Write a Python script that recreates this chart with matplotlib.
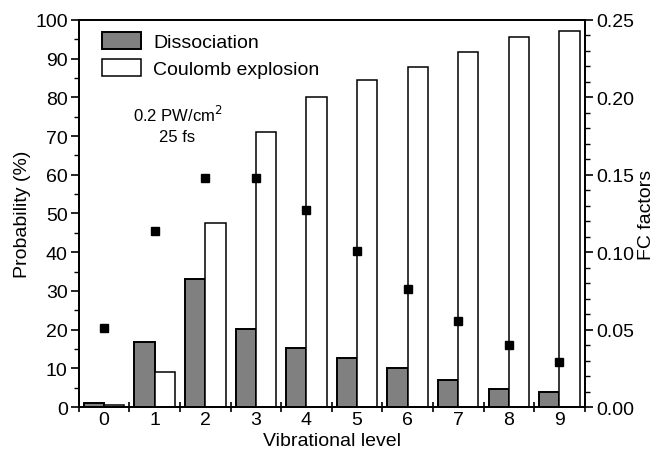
import numpy as np
import matplotlib.pyplot as plt
from matplotlib.ticker import MultipleLocator, FixedLocator, NullFormatter

plt.rcParams['font.family'] = ['Liberation Sans', 'DejaVu Sans']

levels = np.arange(10)
dissociation = [1.0, 16.7, 33.0, 20.3, 15.4, 12.8, 10.0, 7.1, 4.8, 4.0]
coulomb = [0.6, 9.2, 47.6, 71.0, 80.0, 84.5, 87.9, 91.8, 95.5, 97.0]
fc_factors = [0.051, 0.114, 0.148, 0.148, 0.127, 0.101, 0.076, 0.0555, 0.040, 0.029]


def main():
    fig = plt.figure(figsize=(6.57, 4.52), dpi=100)
    ax = fig.add_axes([0.120, 0.097, 0.770, 0.857])

    ax.bar(levels - 0.4, dissociation, width=0.4, align='edge',
           color='#808080', edgecolor='black', linewidth=1.4, label='Dissociation')
    ax.bar(levels, coulomb, width=0.4, align='edge',
           color='white', edgecolor='black', linewidth=1.1, label='Coulomb explosion')

    ax.set_xlim(-0.5, 9.5)
    ax.set_ylim(0, 100)
    # ticks between the groups, labels under the groups
    ax.xaxis.set_major_locator(FixedLocator(np.arange(-0.5, 10, 1.0)))
    ax.xaxis.set_major_formatter(NullFormatter())
    ax.xaxis.set_minor_locator(FixedLocator(levels))
    ax.set_xticklabels([str(v) for v in levels], minor=True)
    ax.tick_params(axis='x', which='major', direction='inout', length=7, width=1.2)
    ax.tick_params(axis='x', which='minor', length=0, labelsize=14, pad=3)
    ax.yaxis.set_major_locator(MultipleLocator(10))
    ax.yaxis.set_minor_locator(MultipleLocator(5))
    ax.tick_params(axis='y', which='major', direction='out', length=6, width=1.2,
                   labelsize=14, pad=2)
    ax.tick_params(axis='y', which='minor', direction='out', length=3.5, width=1.0)
    for s in ax.spines.values():
        s.set_linewidth(1.3)

    ax.set_xlabel('Vibrational level', fontsize=14, labelpad=3)
    ax.set_ylabel('Probability (%)', fontsize=14, labelpad=3)

    ax2 = ax.twinx()
    ax2.plot(levels, fc_factors, 's', color='black', markersize=6)
    ax2.set_ylim(0, 0.25)
    ax2.yaxis.set_major_locator(MultipleLocator(0.05))
    ax2.yaxis.set_minor_locator(MultipleLocator(0.01))
    ax2.yaxis.set_major_formatter(plt.FuncFormatter(lambda v, p: f'{v:.2f}'))
    ax2.tick_params(axis='y', which='major', direction='out', length=6, width=1.2,
                    labelsize=14, pad=2)
    ax2.tick_params(axis='y', which='minor', direction='out', length=3.5, width=1.0)
    ax2.set_ylabel('FC factors', fontsize=14, labelpad=3)
    for s in ax2.spines.values():
        s.set_linewidth(1.3)

    ax.legend(loc='upper left', bbox_to_anchor=(0.02, 1.0), frameon=False,
              fontsize=14, handlelength=2.05, handleheight=0.93,
              handletextpad=0.6, labelspacing=0.4, borderaxespad=0.25)

    ax.text(0.195, 0.757, '0.2 PW/cm$^2$', transform=ax.transAxes,
            fontsize=12, ha='center', va='center')
    ax.text(0.195, 0.70, '25 fs', transform=ax.transAxes,
            fontsize=12, ha='center', va='center')

    fig.savefig('out.png', dpi=100)


if __name__ == "__main__":
    main()
